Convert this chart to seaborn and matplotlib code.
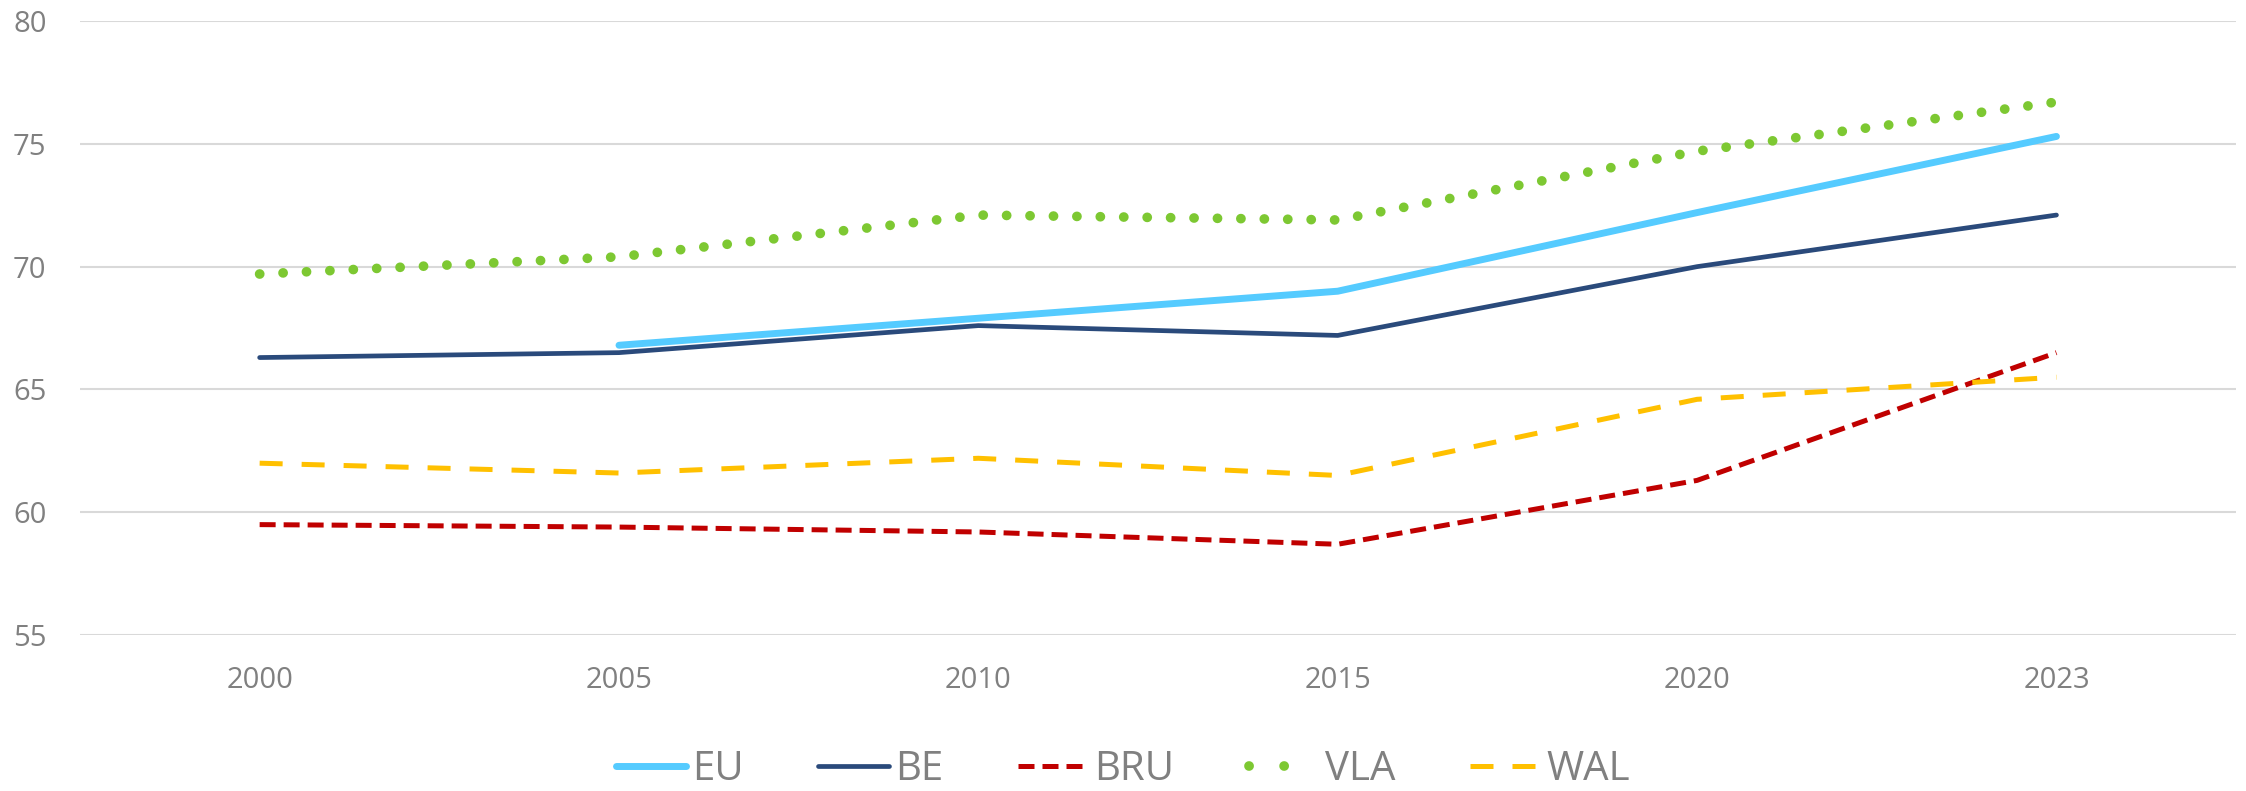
import pandas as pd
import numpy as np
import matplotlib.pyplot as plt
import seaborn as sns

# Data
years = ["2000", "2005", "2010", "2015", "2020", "2023"]
eu = [np.nan, 66.8, 67.9, 69.0, 72.2, 75.3]
be = [66.3, 66.5, 67.6, 67.2, 70.0, 72.1]
bru = [59.5, 59.4, 59.2, 58.7, 61.3, 66.5]
vla = [69.7, 70.4, 72.1, 71.9, 74.7, 76.7]
wal = [62.0, 61.6, 62.2, 61.5, 64.6, 65.5]

yticks = [55, 60, 65, 70, 75, 80]
text_grey = "#808080"

# Styles per series (plotted BE first so the category order starts at 2000)
series = [
    ("BE", be, dict(color="#2A4A7B", linewidth=3.4, solid_capstyle="round")),
    ("EU", eu, dict(color="#55CBFF", linewidth=5.0, solid_capstyle="round")),
    ("BRU", bru, dict(color="#C00000", linewidth=3.6, linestyle=(0, (3.2, 1.6)))),
    ("VLA", vla, dict(color="#7DC832", linewidth=7.0, linestyle=(0, (0.01, 2.4)),
                      dash_capstyle="round")),
    ("WAL", wal, dict(color="#FFC000", linewidth=3.6, linestyle=(0, (4.6, 3.8)))),
]
legend_order = ["EU", "BE", "BRU", "VLA", "WAL"]


def main():
    sns.set_style("white")
    plt.rcParams["font.family"] = ["Open Sans", "DejaVu Sans"]

    fig = plt.figure(figsize=(22.46, 7.91), dpi=100)
    ax = fig.add_axes([0.0356, 0.197, 0.96, 0.7765])

    for name, vals, style in series:
        df = pd.DataFrame({"year": years, "value": vals}).dropna()
        sns.lineplot(data=df, x="year", y="value", ax=ax, label=name, **style)

    ax.set_xlim(-0.5, len(years) - 0.5)
    ax.set_ylim(55, 80)
    ax.set_yticks(yticks)
    ax.grid(axis="y", color="#D9D9D9", linewidth=1.5)
    ax.set_axisbelow(True)
    for side in ["top", "right", "left", "bottom"]:
        ax.spines[side].set_visible(False)
    ax.set_xlabel("")
    ax.set_ylabel("")
    ax.tick_params(axis="both", length=0, labelsize=21, colors=text_grey)
    ax.tick_params(axis="x", pad=22)
    ax.tick_params(axis="y", pad=24)

    handles, labels = ax.get_legend_handles_labels()
    lookup = dict(zip(labels, handles))
    ax.get_legend().remove()
    leg = fig.legend([lookup[n] for n in legend_order], legend_order,
                     loc="center", bbox_to_anchor=(0.5, 0.027), ncol=5,
                     frameon=False, fontsize=29, labelcolor=text_grey,
                     handlelength=1.75, handletextpad=0.15, columnspacing=1.85)
    # wider dot spacing in the legend sample, like the reference
    leg.get_lines()[3].set_linestyle((0, (0.01, 3.6)))

    fig.savefig("out.png", dpi=100)


if __name__ == "__main__":
    main()
